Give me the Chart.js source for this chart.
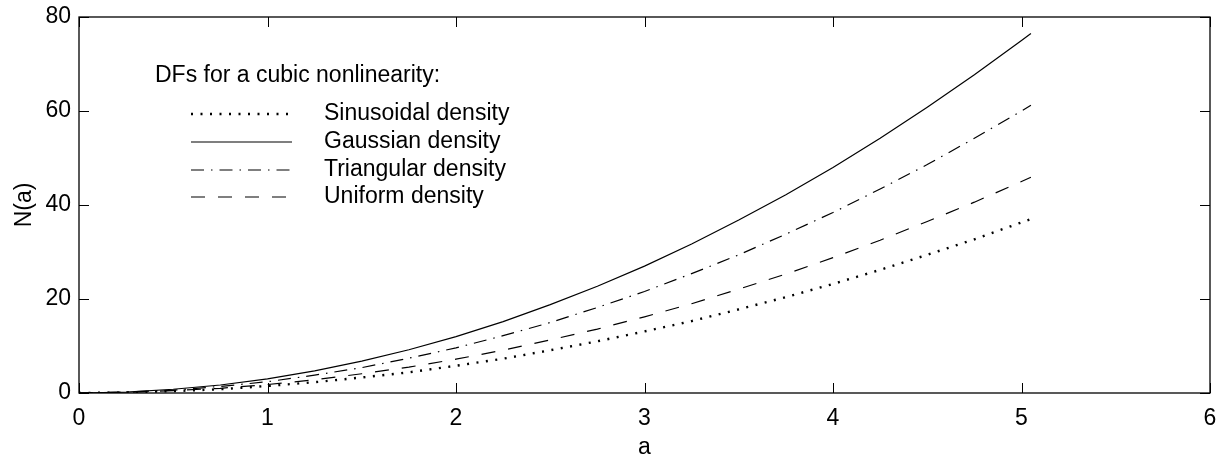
<!DOCTYPE html>
<html>
<head>
<meta charset="utf-8">
<script src="https://cdn.jsdelivr.net/npm/chart.js@4/dist/chart.umd.min.js"></script>
<style>
  html, body { margin: 0; padding: 0; background: #fff; }
  canvas { display: block; }
</style>
</head>
<body>
<canvas id="grafico" width="1227" height="457"></canvas>
<script>
// valores (a -> N(a))
const aValues = [0, 0.25, 0.5, 0.75, 1, 1.25, 1.5, 1.75, 2, 2.25, 2.5, 2.75, 3, 3.25, 3.5, 3.75, 4, 4.25, 4.5, 4.75, 5, 5.05];
const sinusoidal = [0, 0.1, 0.4, 0.8, 1.5, 2.3, 3.3, 4.4, 5.8, 7.3, 9.1, 11, 13.1, 15.3, 17.8, 20.4, 23.2, 26.2, 29.4, 32.7, 36.3, 37];
const gaussian = [0, 0.2, 0.8, 1.7, 3, 4.7, 6.8, 9.2, 12, 15.2, 18.8, 22.7, 27, 31.7, 36.8, 42.2, 48, 54.2, 60.8, 67.7, 75, 76.5];
const triangular = [0, 0.2, 0.6, 1.4, 2.4, 3.8, 5.4, 7.4, 9.6, 12.2, 15, 18.2, 21.6, 25.4, 29.4, 33.8, 38.4, 43.4, 48.6, 54.2, 60, 61.2];
const uniform = [0, 0.1, 0.5, 1, 1.8, 2.8, 4.1, 5.5, 7.2, 9.1, 11.3, 13.6, 16.2, 19, 22.1, 25.3, 28.8, 32.5, 36.5, 40.6, 45, 45.9];

const seriesNames = ['Sinusoidal density', 'Gaussian density', 'Triangular density', 'Uniform density'];
const legendTitle = 'DFs for a cubic nonlinearity:';
const xTicks = [0, 1, 2, 3, 4, 5, 6];
const yTicks = [0, 20, 40, 60, 80];

const FONTE = '"Liberation Sans", Arial, Helvetica, sans-serif';

function pontos(ys) {
  return aValues.map((a, i) => ({ x: a, y: ys[i] }));
}

// moldura, marcas internas e legenda no estilo MATLAB
const molduraPlugin = {
  id: 'moldura',
  afterDatasetsDraw(chart) {
    const ctx = chart.ctx;
    const area = chart.chartArea;
    const sx = chart.scales.x, sy = chart.scales.y;
    const tam = 10;
    ctx.save();
    ctx.strokeStyle = '#000';
    ctx.lineWidth = 1.3;
    ctx.setLineDash([]);
    ctx.strokeRect(area.left, area.top, area.right - area.left, area.bottom - area.top);
    ctx.beginPath();
    xTicks.forEach(v => {
      const px = Math.round(sx.getPixelForValue(v)) + 0.5;
      ctx.moveTo(px, area.bottom); ctx.lineTo(px, area.bottom - tam);
      ctx.moveTo(px, area.top); ctx.lineTo(px, area.top + tam);
    });
    yTicks.forEach(v => {
      const py = Math.round(sy.getPixelForValue(v)) + 0.5;
      ctx.moveTo(area.left, py); ctx.lineTo(area.left + tam, py);
      ctx.moveTo(area.right, py); ctx.lineTo(area.right - tam, py);
    });
    ctx.lineWidth = 1;
    ctx.stroke();

    // legenda
    ctx.fillStyle = '#000';
    ctx.font = '23px ' + FONTE;
    ctx.textBaseline = 'middle';
    ctx.textAlign = 'left';
    ctx.fillText(legendTitle, 155, 76);
    const linhasY = [114, 142, 170, 197];
    chart.data.datasets.forEach((ds, i) => {
      const y = linhasY[i];
      ctx.save();
      ctx.strokeStyle = ds.borderColor;
      ctx.lineWidth = ds.borderWidth;
      ctx.setLineDash(ds.borderDash || []);
      ctx.beginPath();
      ctx.moveTo(191, y); ctx.lineTo(292, y);
      ctx.stroke();
      ctx.restore();
      ctx.fillText(ds.label, 324, y);
    });
    ctx.restore();
  }
};

new Chart(document.getElementById('grafico'), {
  type: 'line',
  data: {
    datasets: [
      { label: seriesNames[0], data: pontos(sinusoidal), borderColor: '#000', borderWidth: 2.4, borderDash: [2, 7.5] },
      { label: seriesNames[1], data: pontos(gaussian), borderColor: '#000', borderWidth: 1.2 },
      { label: seriesNames[2], data: pontos(triangular), borderColor: '#000', borderWidth: 1.2, borderDash: [13, 7, 1.5, 7] },
      { label: seriesNames[3], data: pontos(uniform), borderColor: '#000', borderWidth: 1.2, borderDash: [14, 13] }
    ]
  },
  options: {
    responsive: false,
    animation: false,
    events: [],
    elements: { point: { radius: 0 }, line: { tension: 0, fill: false } },
    layout: { padding: { top: 17, right: 17, left: 0, bottom: 0 } },
    plugins: { legend: { display: false }, tooltip: { enabled: false } },
    scales: {
      x: {
        type: 'linear', min: 0, max: 6,
        grid: { display: false }, border: { display: false },
        afterBuildTicks: s => { s.ticks = xTicks.map(v => ({ value: v })); },
        afterFit: s => { s.height = 64; },
        ticks: { color: '#000', font: { family: FONTE, size: 23 }, padding: 4, maxRotation: 0 },
        title: { display: true, text: 'a', color: '#000', font: { family: FONTE, size: 23 }, padding: { top: 0, bottom: -4 } }
      },
      y: {
        type: 'linear', min: 0, max: 80,
        grid: { display: false }, border: { display: false },
        afterBuildTicks: s => { s.ticks = yTicks.map(v => ({ value: v })); },
        afterFit: s => { s.width = 79; },
        ticks: { color: '#000', font: { family: FONTE, size: 23 }, padding: 0 },
        title: { display: true, text: 'N(a)', color: '#000', font: { family: FONTE, size: 23 }, padding: { top: 11, bottom: 0 } }
      }
    }
  },
  plugins: [molduraPlugin]
});
</script>
</body>
</html>
